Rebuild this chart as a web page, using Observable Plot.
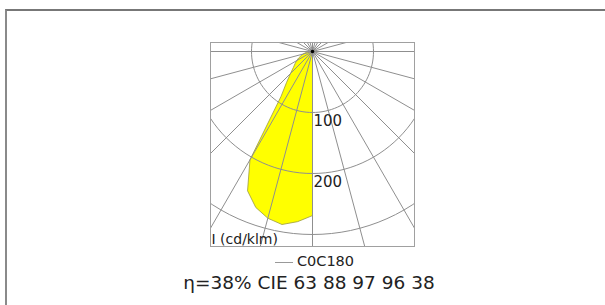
<!DOCTYPE html>
<html>
<head>
<meta charset="utf-8">
<script src="https://cdn.jsdelivr.net/npm/d3@7"></script>
<script src="https://cdn.jsdelivr.net/npm/@observablehq/plot@0.6"></script>
<style>
  html, body { margin: 0; padding: 0; background: #fff; }
  body { width: 605px; height: 305px; overflow: hidden; position: relative; font-family: "DejaVu Sans", sans-serif; color: #222; }
  #border { position: absolute; left: 5px; top: 9px; right: -10px; bottom: -10px; border-left: 2px solid #8a8a8a; border-top: 2px solid #777; }
  #chart { position: absolute; left: 0; top: 0; }
  #legend { position: absolute; left: 0; width: 629px; top: 252px; text-align: center; font-size: 14.5px; line-height: 18px; white-space: nowrap; }
  #legend .sw { display: inline-block; width: 18px; height: 0; border-top: 1px solid #999; vertical-align: middle; margin-right: 4px; }
  #caption { position: absolute; left: 0; width: 618px; top: 272px; text-align: center; font-size: 18.5px; line-height: 22px; white-space: nowrap; }
</style>
</head>
<body>
<div id="border"></div>
<div id="chart"></div>
<div id="legend"><span class="sw"></span>C0C180</div>
<div id="caption">η=38% CIE 63 88 97 96 38</div>
<script>
// Data (cd/klm), C180 half-plane, gamma angles from nadir
const gammaAngles = [0, 5, 10, 15, 20, 25, 30, 35, 40, 45, 50, 55, 60, 65, 70, 75, 80, 85, 90];
const intensityC180 = [269, 280, 288, 283, 272, 252, 205, 90, 66, 51, 41, 35, 30, 25, 20, 16, 12, 8, 4];
const ringValues = [100, 200, 300];
const ringLabels = [100, 200];
const rayAngles = d3.range(0, 360, 15);
const unitLabel = "I (cd/klm)";

const rad = d => d * Math.PI / 180;

// polygon: origin -> gamma 90..0 on C180 side -> origin
const curve = [{x: 0, y: 0}];
for (let i = gammaAngles.length - 1; i >= 0; i--) {
  const g = rad(gammaAngles[i]), I = intensityC180[i];
  curve.push({x: -I * Math.sin(g), y: I * Math.cos(g)});
}
curve.push({x: 0, y: 0});

const ringPts = [];
for (const r of ringValues) {
  for (let a = 0; a <= 360; a += 3) ringPts.push({r, x: r * Math.sin(rad(a)), y: r * Math.cos(rad(a))});
}
const RL = 450;
const rays = rayAngles.map(a => ({x2: RL * Math.sin(rad(a)), y2: RL * Math.cos(rad(a))}));

const k = 0.61; // px per cd
const chart = Plot.plot({
  width: 605,
  height: 250,
  marginLeft: 210,
  marginRight: 191,
  marginTop: 42,
  marginBottom: 4,
  style: {background: "transparent", fontFamily: "DejaVu Sans, sans-serif", overflow: "visible"},
  x: {domain: [-102 / k, 102 / k], axis: null},
  y: {domain: [-9 / k, 195 / k], reverse: true, axis: null},
  marks: [
    Plot.line(curve, {x: "x", y: "y", fill: "#ffff00", stroke: "#9a9a40", strokeWidth: 0.8, curve: "linear"}),
    Plot.line(ringPts, {x: "x", y: "y", z: "r", stroke: "#8f8f8f", strokeWidth: 1, clip: true}),
    Plot.link(rays, {x1: () => 0, y1: () => 0, x2: "x2", y2: "y2", stroke: "#8f8f8f", strokeWidth: 1, clip: true}),
    Plot.frame({stroke: "#a0a0a0", strokeWidth: 1}),
    Plot.dot([{x: 0, y: 0}], {x: "x", y: "y", r: 1.8, fill: "#000", stroke: null}),
    Plot.text(ringLabels, {x: () => 0, y: d => d, text: d => String(d), textAnchor: "start", dx: 1, dy: 9, fontSize: 15, fill: "#222"}),
    Plot.text([unitLabel], {frameAnchor: "bottom-left", text: d => d, textAnchor: "start", lineAnchor: "bottom", dx: 1, dy: -3, fontSize: 14, fill: "#222"})
  ]
});
document.getElementById("chart").appendChild(chart);
</script>
</body>
</html>
